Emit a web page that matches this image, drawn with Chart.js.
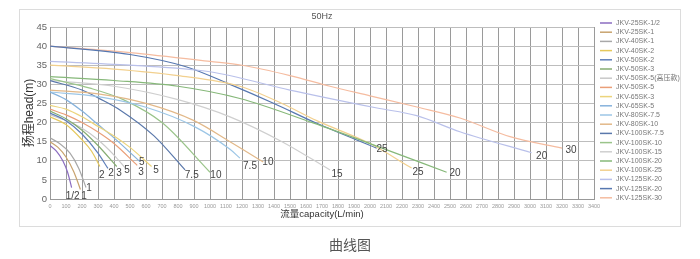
<!DOCTYPE html>
<html><head><meta charset="utf-8">
<script src="https://cdn.jsdelivr.net/npm/chart.js@4"></script>
<style>html,body{margin:0;padding:0;background:#fff;width:700px;height:259px;overflow:hidden}
#wrap{position:relative;width:700px;height:259px}</style></head>
<body><div id="wrap"><canvas id="c" width="700" height="259"></canvas></div>
<script>
// ---- data (flow L/min, head m) ----
const names = ['JKV-25SK-1/2','JKV-25SK-1','JKV-40SK-1','JKV-40SK-2','JKV-50SK-2','JKV-50SK-3','JKV-50SK-5(高压款)','JKV-50SK-5','JKV-65SK-3','JKV-65SK-5','JKV-80SK-7.5','JKV-80SK-10','JKV-100SK-7.5','JKV-100SK-10','JKV-100SK-15','JKV-100SK-20','JKV-100SK-25','JKV-125SK-20','JKV-125SK-20','JKV-125SK-30'];
const s01 = [[0,14],[40,12.5],[80,10],[110,7],[135,3]];
const s02 = [[0,15],[50,13.5],[100,11],[150,7],[190,2.5]];
const s03 = [[0,16],[60,14.5],[125,12],[180,8],[225,3]];
const s04 = [[0,21.5],[100,19.5],[200,15.5],[260,12.5],[312,8.5]];
const s05 = [[0,22.5],[100,20.5],[200,17],[300,12],[362,8]];
const s06 = [[0,23],[100,21],[200,18],[300,14],[417,8.5]];
const s07 = [[0,22],[100,20.5],[200,18.5],[300,15.5],[400,11.5],[469,8.2]];
const s08 = [[0,23.5],[100,22],[200,20],[300,17.5],[400,14.5],[545,8.8]];
const s09 = [[0,24.5],[100,23.5],[200,21.5],[300,19],[400,16.5],[500,13.5],[635,8.5]];
const s10 = [[0,28],[100,26],[200,23],[300,19.5],[400,16],[562,9.8]];
const s11 = [[0,28],[300,26.8],[600,24],[900,19],[1125,13],[1187,10.7]];
const s12 = [[0,28.5],[300,27.5],[600,25],[900,20.5],[1125,15],[1333,9.7]];
const s13 = [[0,31],[200,28.5],[312,26.2],[437,23.3],[650,16.5],[844,7.6]];
const s14 = [[0,31.5],[250,29],[458,26],[700,20],[1000,7]];
const s15 = [[0,31],[400,29.5],[800,26],[1125,21.5],[1450,15],[1750,7.6]];
const s16 = [[0,32],[400,31],[800,29.5],[1187,26.3],[1644,19.9],[2000,14.5],[2479,7]];
const s17 = [[0,35],[400,34],[800,32.3],[1187,29.5],[1450,25],[1667,20.5],[2000,14.5],[2260,8.1]];
const s18 = [[0,36],[500,35],[1000,33.3],[1500,28.5],[2044,23.8],[2292,21.8],[2562,17.6],[3010,12.1]];
const s19 = [[0,40],[500,37.8],[850,34.6],[1125,30],[1400,25],[1667,19.8],[2042,13.3]];
const s20 = [[0,40],[500,38.3],[1000,36],[1200,35],[1500,32.3],[1750,29.5],[2000,27],[2300,24],[2562,21.2],[2875,16.3],[3200,13.3]];
const series = [s01,s02,s03,s04,s05,s06,s07,s08,s09,s10,s11,s12,s13,s14,s15,s16,s17,s18,s19,s20];
// curve end labels (text, flow, head)
const tagText = ['1/2','1','1','2','2','3','5','3','5','5','7.5','10','7.5','10','15','25','25','20','20','30'];
const tagFlow = [142,212,244,323,381,431,481,569,573,662,886,1037,1250,1362,1794,2075,2300,2531,3073,3256];
const tagHead = [0.8,0.8,2.9,6.3,6.8,6.8,7.6,7.1,9.7,7.6,6.3,6.3,8.6,9.5,6.5,13.1,7.1,6.8,11.3,12.8];
const xTicks = {min:0, max:3400, step:100};
const yTicks = {min:0, max:45, step:5};

const colors = ['#8b6cc0','#c8a36e','#a8a8a8','#e5c85c','#5f7fba','#86ad72','#c9c9c9','#ea9f78','#ecd47c','#86b2dc','#9cc6e6','#e2b888','#5a78ab','#9ac48a','#cfcfcf','#86b879','#f2d08e','#b9c0ea','#5677b0','#f5bca0'];
const FONT = "'Liberation Sans', Arial, 'Noto Sans CJK SC', sans-serif";

const datasets = series.map((s,i)=>({
  label: names[i],
  data: s.map(p=>({x:p[0],y:p[1]})),
  borderColor: colors[i], backgroundColor: colors[i],
  borderWidth: 1.2, pointRadius: 0, fill: false,
  cubicInterpolationMode: 'monotone'
}));

const deco = {
  id:'deco',
  beforeDraw(chart){
    const c = chart.ctx;
    c.save();
    c.strokeStyle = '#dcdcdc'; c.lineWidth = 1;
    c.strokeRect(19.5, 9.5, 661, 217);
    c.restore();
  },
  afterDraw(chart){
    const c = chart.ctx, xs = chart.scales.x, ys = chart.scales.y;
    c.save();
    c.fillStyle = '#555'; c.font = '9px ' + FONT; c.textAlign='center'; c.textBaseline='middle';
    c.fillText('50Hz', (chart.chartArea.left+chart.chartArea.right)/2, 17);
    c.fillStyle = '#444'; c.font = '10px ' + FONT;
    for (let i=0;i<tagText.length;i++){
      c.fillText(tagText[i], xs.getPixelForValue(tagFlow[i]), ys.getPixelForValue(tagHead[i]));
    }
    c.textAlign='left'; c.font = '7px ' + FONT;
    chart.data.datasets.forEach((d,i)=>{
      const y = 23 + i*9.2;
      c.strokeStyle = d.borderColor; c.lineWidth = 1.5;
      c.beginPath(); c.moveTo(600,y); c.lineTo(612,y); c.stroke();
      c.fillStyle = '#777'; c.fillText(d.label, 616, y);
    });
    c.fillStyle = '#555'; c.textAlign='center'; c.font = "14px 'Noto Sans CJK SC', sans-serif";
    c.fillText('曲线图', 350, 245);
    c.restore();
  }
};

new Chart(document.getElementById('c'), {
  type:'line',
  data:{datasets},
  options:{
    responsive:false, animation:false, devicePixelRatio:1,
    layout:{padding:{left:0, top:27, right:106, bottom:0}},
    plugins:{legend:{display:false}, title:{display:false}, tooltip:{enabled:false}},
    scales:{
      x:{type:'linear', min:xTicks.min, max:xTicks.max,
         afterFit(s){ s.height = 60; },
         ticks:{stepSize:xTicks.step, autoSkip:false, maxRotation:0, font:{size:5.5, family:FONT}, color:'#999', padding:4,
                callback:(v)=>String(v)},
         grid:{color:'#9a9a9a', drawTicks:false, lineWidth:1},
         border:{color:'#999'},
         title:{display:true, text:'流量capacity(L/min)', color:'#333', font:{size:9.5, family:FONT}, padding:{top:0,bottom:39}}
      },
      y:{type:'linear', min:yTicks.min, max:yTicks.max,
         afterFit(s){ s.width = 50; },
         ticks:{stepSize:yTicks.step, font:{size:9.5, family:FONT}, color:'#666', padding:3},
         grid:{color:'#bdbdbd', drawTicks:false},
         border:{color:'#999'},
         title:{display:true, text:'扬程head(m)', color:'#333', font:{size:12, family:FONT}, padding:{top:22,bottom:0}}
      }
    }
  },
  plugins:[deco]
});
</script></body></html>
